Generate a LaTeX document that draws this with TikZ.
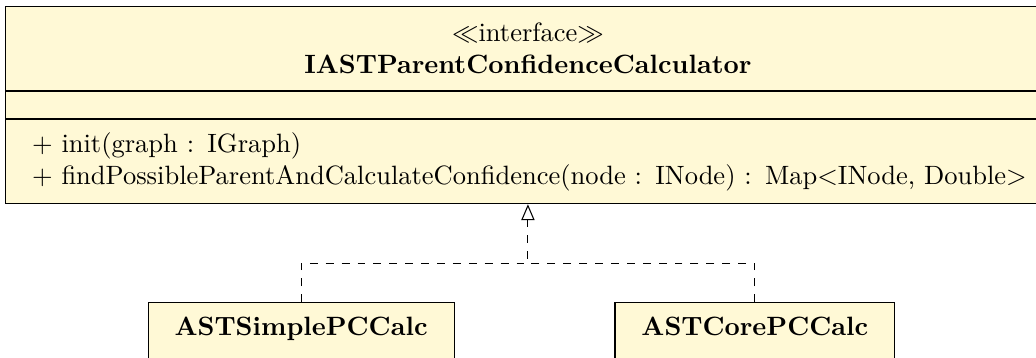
\documentclass[tikz,border=0pt]{standalone}
\usetikzlibrary{arrows.meta,positioning}
\definecolor{classfill}{RGB}{255,249,214}
\newlength{\calcwd}
\newcommand{\findop}{+ findPossibleParentAndCalculateConfidence(node : INode) : Map$<$INode, Double$>$}
\tikzset{
  ifacepart/.style={draw,fill=classfill,inner xsep=10pt,inner ysep=0pt,text width=\calcwd},
  cls/.style={anchor=north,draw,fill=classfill,inner xsep=10pt,inner ysep=3.33pt,
    text height=9.2pt,text depth=10pt},
  realize/.style={dashed,-{Triangle[open,length=6pt,width=5pt]}}
}
\begin{document}
\settowidth{\calcwd}{\findop}%
\begin{tikzpicture}
\useasboundingbox (-199.2pt,2.26pt) rectangle (191.7pt,-132.8pt);
%
\node[ifacepart,anchor=north,align=center,minimum height=31.7pt] (calc) at (0,0)
  {$\ll$interface$\gg$\\\textbf{IASTParentConfidenceCalculator}};
\node[ifacepart,below=0pt of calc,minimum height=10.2pt] (calcattr) {};
\node[ifacepart,below=0pt of calcattr,align=left,minimum height=31.7pt] (calcops)
  {\mbox{+ init(graph : IGraph)}\\\mbox{\findop}};
%
\node[cls] (simple) at (-85.6pt,-111.7pt) {\textbf{ASTSimplePCCalc}};
\node[cls] (core) at (85.6pt,-111.7pt) {\textbf{ASTCorePCCalc}};
%
\coordinate (fork) at (0,-97pt);
\draw[realize] (simple.north) |- (fork) -- (calcops.south);
\draw[dashed] (core.north) |- (fork);
\end{tikzpicture}
\end{document}
